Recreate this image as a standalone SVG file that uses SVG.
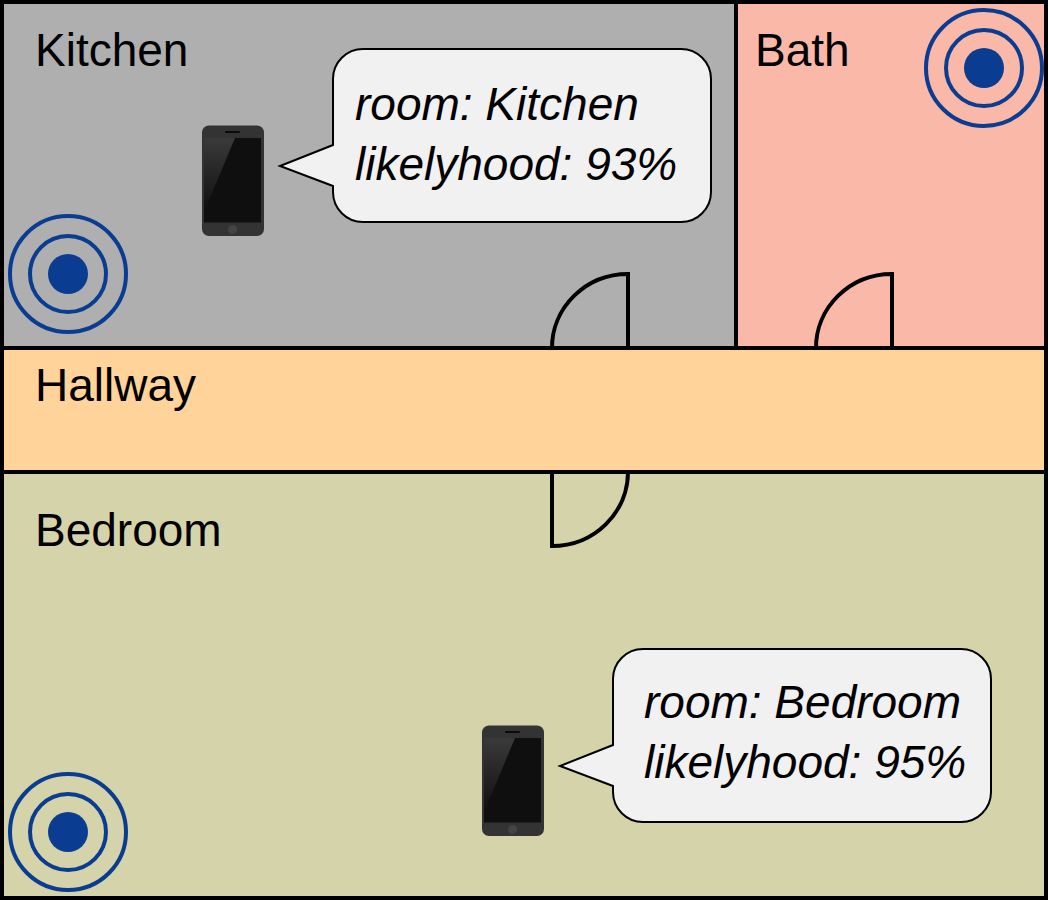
<svg xmlns="http://www.w3.org/2000/svg" width="1048" height="900" viewBox="0 0 1048 900">
<style>
text{font-family:"Liberation Sans",Arial,sans-serif;fill:#000}
.label{font-size:46px}
.bubtext{font-size:46px;font-style:italic}
.wall{fill:none;stroke:#000;stroke-width:4}
.door{fill:none;stroke:#000;stroke-width:4}
.bubble{fill:#f1f1f1;stroke:#000;stroke-width:2}
.ring{fill:none;stroke:#0a3d91;stroke-width:4}
.dot{fill:#0a3d91}
</style>
<defs>
<linearGradient id="glare" x1="0" y1="0" x2="0" y2="1">
<stop offset="0" stop-color="#3a3a3a"/>
<stop offset="1" stop-color="#0f0f0f"/>
</linearGradient>
<g id="phone">
<rect x="202" y="125.500" width="62" height="110.500" rx="7" fill="#333"/>
<rect x="204" y="138" width="57" height="84.500" fill="#0f0f0f"/>
<polygon points="204,138 235,138 204,212" fill="url(#glare)"/>
<rect x="225" y="131" width="15" height="2" rx="1" fill="#0a0a0a"/>
<circle cx="232.500" cy="229.500" r="4.500" fill="#444"/>
</g>
<g id="beacon">
<circle class="ring" cx="0" cy="0" r="58"/>
<circle class="ring" cx="0" cy="0" r="38"/>
<circle class="dot" cx="0" cy="0" r="20"/>
</g>
<path id="bub" class="bubble" d="M363 49H681A30 30 0 0 1 711 79V192A30 30 0 0 1 681 222H363A30 30 0 0 1 333 192V186L280 166L333 145V79A30 30 0 0 1 363 49Z"/>
</defs>
<g id="kitchen">
<rect x="2" y="2" width="734" height="346" fill="#afafaf"/>
<text class="label" x="35" y="66">Kitchen</text>
</g>
<g id="bath">
<rect x="736" y="2" width="310" height="346" fill="#f9b8a8"/>
<text class="label" x="755" y="66">Bath</text>
</g>
<g id="hallway">
<rect x="2" y="348" width="1044" height="124" fill="#ffd399"/>
<text class="label" x="35" y="401">Hallway</text>
</g>
<g id="bedroom">
<rect x="2" y="472" width="1044" height="426" fill="#d5d3a9"/>
<text class="label" x="35" y="546">Bedroom</text>
</g>
<g id="walls">
<rect class="wall" x="2" y="2" width="1044" height="896"/>
<path class="wall" d="M736 2V348M2 348H1046M2 472H1046"/>
</g>
<g id="doors">
<path class="door" d="M552 348A76 74 0 0 1 628 274V348"/>
<path class="door" d="M816 348A76 74 0 0 1 892 274V348"/>
<path class="door" d="M628 472A76 74 0 0 1 552 546V472"/>
</g>
<g id="beacon-kitchen"><use href="#beacon" x="68" y="274"/></g>
<g id="beacon-bath"><use href="#beacon" x="984" y="68"/></g>
<g id="beacon-bedroom"><use href="#beacon" x="68" y="832"/></g>
<g id="phone-kitchen"><use href="#phone"/></g>
<g id="phone-bedroom"><use href="#phone" x="280" y="600"/></g>
<g id="bubble-kitchen">
<use href="#bub"/>
<text class="bubtext" x="355" y="120">room: Kitchen</text>
<text class="bubtext" x="355" y="180">likelyhood: 93%</text>
</g>
<g id="bubble-bedroom">
<use href="#bub" x="280" y="600"/>
<text class="bubtext" x="644" y="718">room: Bedroom</text>
<text class="bubtext" x="644" y="778">likelyhood: 95%</text>
</g>
</svg>
